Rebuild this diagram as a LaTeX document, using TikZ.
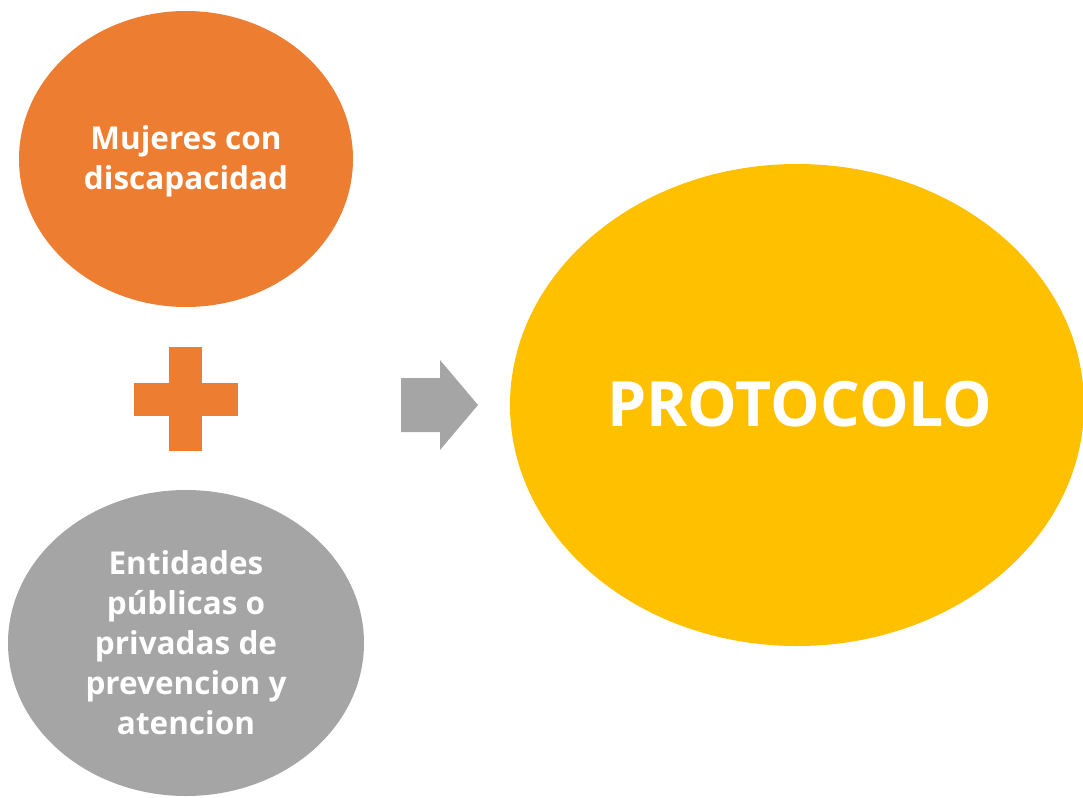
\documentclass[tikz,border=0pt]{standalone}
\usepackage{fontspec}
\setmainfont{Open Sans}
\usetikzlibrary{shapes.geometric}
\definecolor{orng}{HTML}{ED7D31}
\definecolor{gry}{HTML}{A5A5A5}
\definecolor{ylw}{HTML}{FFC000}
\tikzset{
  blob/.style={ellipse, inner sep=0pt, text=white, align=center, font=\fontsize{31.5}{40}\selectfont\bfseries},
}
\begin{document}
\begin{tikzpicture}[x=1pt,y=-1pt]
\useasboundingbox (0,0) rectangle (1083,797);
% orange ellipse
\fill[orng] (186,159) ellipse [x radius=167, y radius=148];
\node[blob] (mujeres) at (186,161) {Mujeres con\\discapacidad};
% plus
\fill[orng] (134,383) rectangle (238,416);
\fill[orng] (169,347) rectangle (202,451);
% gray ellipse
\fill[gry] (186,643) ellipse [x radius=178, y radius=153];
\node[blob] (entidades) at (186,643) {Entidades\\públicas o\\privadas de\\prevencion y\\atencion};
% arrow
\fill[gry] (401,378) -- (440,378) -- (440,360) -- (478,405) -- (440,450) -- (440,432) -- (401,432) -- cycle;
% yellow ellipse
\fill[ylw] (797,405) ellipse [x radius=287, y radius=241];
\node[blob, font=\fontsize{62.5}{76}\selectfont\bfseries] (protocolo) at (800,404) {PROTOCOLO};
\end{tikzpicture}
\end{document}
